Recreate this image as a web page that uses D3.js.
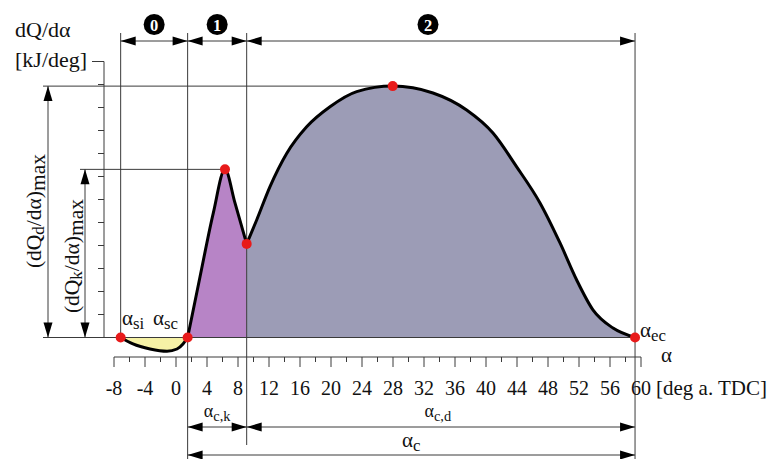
<!DOCTYPE html>
<html><head><meta charset="utf-8">
<script src="https://cdn.jsdelivr.net/npm/d3@7"></script>
<style>
body{margin:0;background:#fff}
svg{display:block}
text{font-family:"Liberation Serif","Times New Roman",serif;fill:#111}
</style>
</head><body>
<svg id="c" width="771" height="459"></svg>
<script>
// ---- data ----
const phase0Alpha = [-7.14, -5.55, -3.35, -1.16, 0.13, 0.9, 1.5];
const phase0Q     = [0, -0.28, -0.5, -0.6, -0.5, -0.28, 0];
const phase1Alpha = [1.5, 3.1, 4.81, 6.32, 7.61, 9.12];
const phase1Q     = [0, 2.64, 5.41, 7.31, 5.85, 4.07];
const phase2Alpha = [9.12, 10.41, 12.13, 14.28, 16.86, 19.87, 23.32, 27.96, 33.16, 37.5, 40.9, 43.96, 46.97, 49.55, 51.7, 53.8, 56.39, 59.23];
const phase2Q     = [4.07, 5.11, 6.56, 8.0, 9.16, 10.03, 10.69, 10.93, 10.63, 9.89, 8.89, 7.42, 5.85, 4.11, 2.5, 1.2, 0.41, 0];
const markerAlpha = [-7.14, 1.5, 6.32, 9.12, 27.96, 59.23];
const markerQ     = [0, 0, 7.31, 4.07, 10.93, 0];
const xMajorTicks = [-8, -4, 0, 4, 8, 12, 16, 20, 24, 28, 32, 36, 40, 44, 48, 52, 56, 60];
const xMinorTicks = [-6, -2, 2, 6, 10, 14, 18, 22, 26, 30, 34, 38, 42, 46, 50, 54, 58];
const yTicks = [1, 2, 3, 4, 5, 6, 7, 8, 9, 10, 11];
const yTop = 12;
const phaseLabels = ["0", "1", "2"];

// ---- scales ----
const x = d3.scaleLinear().domain([-8, 60]).range([114, 641]);
const y = d3.scaleLinear().domain([0, 12]).range([337.5, 61.5]);

const svg = d3.select("#c");
const lineCol = "#3a3a3a";

const aSi = phase0Alpha[0], aSc = phase1Alpha[0], aDip = phase2Alpha[0], aEc = phase2Alpha[phase2Alpha.length - 1];
const qPeakK = d3.max(phase1Q), qPeakD = d3.max(phase2Q);
const aPeakK = phase1Alpha[phase1Q.indexOf(qPeakK)], aPeakD = phase2Alpha[phase2Q.indexOf(qPeakD)];

function zip(a, q) { return a.map((v, i) => [v, q[i]]); }
const p0 = zip(phase0Alpha, phase0Q), p1 = zip(phase1Alpha, phase1Q), p2 = zip(phase2Alpha, phase2Q);

function line(x1, y1, x2, y2, w) {
  svg.append("line").attr("x1", x1).attr("y1", y1).attr("x2", x2).attr("y2", y2)
    .attr("stroke", lineCol).attr("stroke-width", w || 1);
}
function head(tx, ty, dir) {
  const L = 15, H = 4.5;
  let pts;
  if (dir === 'r') pts = [[tx, ty], [tx - L, ty - H], [tx - L, ty + H]];
  if (dir === 'l') pts = [[tx, ty], [tx + L, ty - H], [tx + L, ty + H]];
  if (dir === 'u') pts = [[tx, ty], [tx - H, ty + L], [tx + H, ty + L]];
  if (dir === 'd') pts = [[tx, ty], [tx - H, ty - L], [tx + H, ty - L]];
  svg.append("polygon").attr("points", pts.map(p => p.join(",")).join(" ")).attr("fill", "#000");
}
function hArrow(x1, x2, yy) { line(x1, yy, x2, yy); head(x1, yy, 'l'); head(x2, yy, 'r'); }
function vArrow(xx, y1, y2) { line(xx, y1, xx, y2); head(xx, y1, 'u'); head(xx, y2, 'd'); }

// ---- fills ----
const area = d3.area().x(d => x(d[0])).y0(y(0)).y1(d => y(d[1])).curve(d3.curveMonotoneX);
svg.append("path").attr("d", area(p0)).attr("fill", "#f6f2a6");
svg.append("path").attr("d", area(p1)).attr("fill", "#b784c6");
svg.append("path").attr("d", area(p2)).attr("fill", "#9c9cb6");

// ---- reference lines ----
line(43, y(0), x(aEc), y(0));
line(43, y(qPeakD), x(aPeakD), y(qPeakD));
line(80, y(qPeakK), x(aPeakK), y(qPeakK));
line(x(aSi), 33, x(aSi), y(0));
line(x(aSc), 33, x(aSc), 459);
line(x(aDip), 33, x(aDip), 445);
line(x(aEc), 33, x(aEc), 459);

// ---- y axis ----
line(104, y(0), 104, y(yTop));
line(92, y(yTop), 104, y(yTop));
yTicks.forEach(t => line(98, y(t), 104, y(t)));

// ---- x axis ----
const axY = 357;
line(x(-8), axY, x(60), axY);
xMajorTicks.forEach(t => line(x(t), axY, x(t), axY + 10));
xMinorTicks.forEach(t => line(x(t), axY, x(t), axY + 5));
svg.append("g").selectAll("text").data(xMajorTicks).join("text")
  .attr("x", d => x(d)).attr("y", 395).attr("text-anchor", "middle")
  .attr("font-size", 20).text(d => d);

// ---- curve ----
const ln = d3.line().x(d => x(d[0])).y(d => y(d[1])).curve(d3.curveMonotoneX);
[p0, p1, p2].forEach(p => svg.append("path").attr("d", ln(p)).attr("fill", "none")
  .attr("stroke", "#000").attr("stroke-width", 3).attr("stroke-linejoin", "round").attr("stroke-linecap", "round"));

// ---- markers ----
svg.append("g").selectAll("circle").data(markerAlpha).join("circle")
  .attr("cx", d => x(d)).attr("cy", (d, i) => y(markerQ[i])).attr("r", 5).attr("fill", "#e81a1a");

// ---- dimension arrows ----
vArrow(48, y(qPeakD), y(0));
vArrow(85, y(qPeakK), y(0));
const topY = 41;
hArrow(x(aSi), x(aSc), topY);
hArrow(x(aSc), x(aDip), topY);
hArrow(x(aDip), x(aEc), topY);
hArrow(x(aSc), x(aDip), 427);
hArrow(x(aDip), x(aEc), 427);
hArrow(x(aSc), x(aEc), 455);

// phase numbers
const phaseCx = [(x(aSi) + x(aSc)) / 2, (x(aSc) + x(aDip)) / 2, 428];
phaseLabels.forEach((s, i) => {
  svg.append("circle").attr("cx", phaseCx[i]).attr("cy", 24.5).attr("r", 10.5).attr("fill", "#000");
  svg.append("text").attr("x", phaseCx[i]).attr("y", 30.5).attr("text-anchor", "middle")
    .attr("font-family", "DejaVu Sans, sans-serif").attr("font-weight", "bold")
    .attr("font-size", 16.5).style("fill", "#fff").text(s);
});

// ---- labels ----
function sub(xx, yy, main, s, anchor, fs) {
  fs = fs || 21;
  const t = svg.append("text").attr("x", xx).attr("y", yy).attr("font-size", fs)
    .attr("text-anchor", anchor || "start");
  t.append("tspan").text(main);
  t.append("tspan").attr("font-size", fs * 0.8).attr("dy", 4).text(s);
  return t;
}
svg.append("text").attr("x", 15).attr("y", 37).attr("font-size", 22).text("dQ/dα");
svg.append("text").attr("x", 15).attr("y", 67).attr("font-size", 22).text("[kJ/deg]");

sub(122, 325, "α", "si");
sub(153, 325, "α", "sc");
sub(640, 337, "α", "ec");
svg.append("text").attr("x", 661).attr("y", 362).attr("font-size", 21).text("α");
svg.append("text").attr("x", 656).attr("y", 395).attr("font-size", 21).text("[deg a. TDC]");
sub((x(aSc) + x(aDip)) / 2, 417, "α", "c,k", "middle", 18);
sub((x(aDip) + x(aEc)) / 2 - 3, 417, "α", "c,d", "middle", 18);
sub((x(aSc) + x(aEc)) / 2, 447, "α", "c", "middle");

function rotLabel(cx, cy, subTxt) {
  const t = svg.append("text").attr("transform", `translate(${cx},${cy}) rotate(-90)`)
    .attr("text-anchor", "middle").attr("font-size", 21.5);
  t.append("tspan").text("(dQ");
  t.append("tspan").attr("font-size", 17).attr("dy", 3).text(subTxt);
  t.append("tspan").attr("dy", -3).text("/dα)");
  t.append("tspan").attr("dy", 4).text("max");
}
rotLabel(41, 211, "d");
rotLabel(79, 256, "k");
</script>
</body></html>
